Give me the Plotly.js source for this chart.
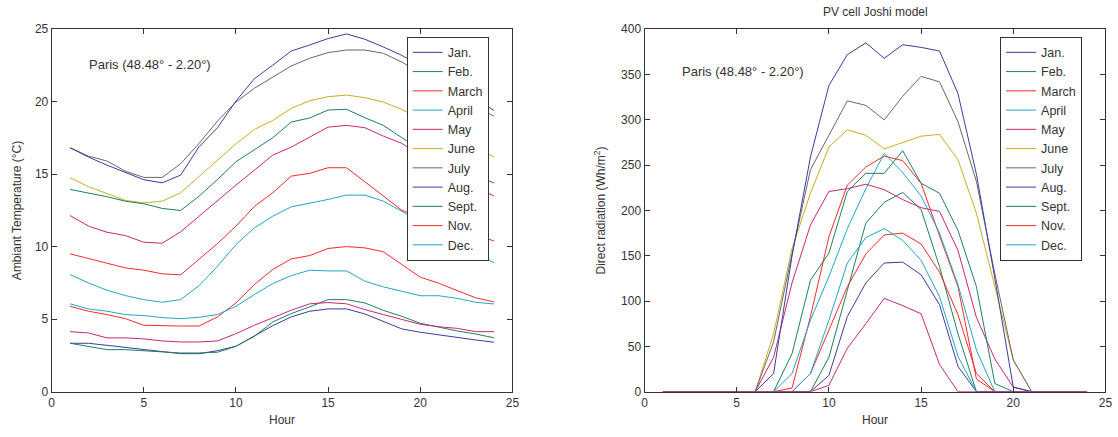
<!DOCTYPE html>
<html>
<head>
<meta charset="utf-8">
<script src="https://cdn.plot.ly/plotly-3.0.1.min.js"></script>
<style>html,body{margin:0;padding:0;background:#fff;}#chart{width:1118px;height:437px;}</style>
</head>
<body>
<div id="chart"></div>
<script>
const hours = [1,2,3,4,5,6,7,8,9,10,11,12,13,14,15,16,17,18,19,20,21,22,23,24];
const legendLabels = ["Jan.","Feb.","March","April","May","June","July","Aug.","Sept.","Nov.","Dec."];
const seriesColors = ["#3c3c9e","#20805a","#f52b2b","#22a6c8","#c8267e","#c9ae22","#6e6666","#3c3c9e","#20805a","#f52b2b","#22a6c8","#c8267e"];

// Ambient temperature (°C), one array per curve
const tJan = [3.34,3.34,3.20,3.06,2.90,2.74,2.62,2.62,2.83,3.13,3.82,4.56,5.16,5.55,5.71,5.71,5.36,4.86,4.33,4.10,3.91,3.75,3.57,3.41];
const tFeb = [3.34,3.13,2.90,2.90,2.83,2.78,2.67,2.67,2.72,3.13,3.82,4.81,5.39,5.85,6.35,6.35,6.12,5.61,5.20,4.72,4.44,4.19,3.98,3.72];
const tMar = [5.89,5.55,5.32,5.04,4.58,4.53,4.53,4.53,5.16,6.12,7.39,8.43,9.16,9.39,9.88,10.01,9.92,9.65,8.77,7.90,7.48,6.97,6.48,6.19];
const tApr = [8.08,7.50,7.00,6.63,6.35,6.17,6.35,7.32,8.65,10.15,11.30,12.11,12.75,12.98,13.26,13.56,13.56,13.14,12.45,11.70,11.00,10.20,9.50,8.90];
const tMay = [12.15,11.42,11.00,10.77,10.31,10.24,11.03,12.11,13.14,14.25,15.28,16.32,16.87,17.59,18.25,18.37,18.21,17.63,17.13,16.30,15.50,14.80,14.10,13.50];
const tJun = [14.76,14.14,13.67,13.19,13.03,13.14,13.72,14.83,15.95,17.10,18.09,18.71,19.54,20.07,20.35,20.46,20.28,19.98,19.47,18.80,18.10,17.40,16.80,16.20];
const tJul = [16.83,16.25,15.91,15.21,14.78,14.78,15.72,17.13,18.67,19.98,20.93,21.73,22.47,23.00,23.39,23.57,23.57,23.34,22.74,22.00,21.20,20.40,19.70,19.00];
const tAug = [16.83,16.18,15.63,15.10,14.62,14.41,14.94,16.90,18.21,20.05,21.59,22.53,23.50,23.92,24.36,24.68,24.31,23.78,23.20,22.50,21.70,20.90,20.20,19.40];
const tSep = [13.95,13.72,13.45,13.14,12.96,12.64,12.50,13.49,14.64,15.86,16.66,17.52,18.60,18.88,19.43,19.48,18.90,18.37,17.52,16.70,16.00,15.40,14.90,14.40];
const tOct = [9.51,9.19,8.84,8.54,8.38,8.13,8.06,9.12,10.22,11.42,12.78,13.72,14.87,15.06,15.45,15.45,14.48,13.49,12.52,12.00,11.60,11.20,10.80,10.40];
const tNov = [6.06,5.71,5.55,5.32,5.25,5.11,5.04,5.13,5.32,5.89,6.70,7.46,8.01,8.38,8.33,8.33,7.62,7.23,6.93,6.62,6.62,6.44,6.17,6.05];
const tDec = [4.14,4.05,3.71,3.71,3.64,3.50,3.43,3.43,3.50,4.00,4.58,5.09,5.62,6.06,6.15,6.06,5.66,5.32,4.97,4.65,4.48,4.37,4.14,4.14];

// Direct radiation (Wh/m²), one array per curve
const rJan = [0,0,0,0,0,0,0,0,0,18,83,120,142,143,129,96,28,0,0,0,0,0,0,0];
const rFeb = [0,0,0,0,0,0,0,0,0,38,112,186,209,220,201,138,64,0,0,0,0,0,0,0];
const rMar = [0,0,0,0,0,0,0,4,83,171,228,248,260,255,230,172,116,14,0,0,0,0,0,0];
const rApr = [0,0,0,0,0,0,0,20,79,127,180,224,263,242,216,175,118,46,0,0,0,0,0,0];
const rMay = [0,0,0,0,0,0,38,120,184,221,224,229,223,212,203,199,156,82,36,5,0,0,0,0];
const rJun = [0,0,0,0,0,0,64,158,219,270,289,283,268,275,282,284,256,197,115,35,0,0,0,0];
const rJul = [0,0,0,0,0,0,55,152,245,283,321,316,300,326,348,342,298,232,130,35,0,0,0,0];
const rAug = [0,0,0,0,0,0,20,150,259,338,372,385,368,383,380,376,329,240,125,5,0,0,0,0];
const rSep = [0,0,0,0,0,0,0,42,123,153,221,241,241,266,230,219,178,116,9,0,0,0,0,0];
const rOct = [0,0,0,0,0,0,0,0,20,68,116,152,173,175,163,132,85,20,0,0,0,0,0,0];
const rNov = [0,0,0,0,0,0,0,0,20,79,142,170,180,167,145,105,39,0,0,0,0,0,0,0];
const rDec = [0,0,0,0,0,0,0,0,0,7,48,75,103,95,86,30,0,0,0,0,0,0,0,0];

const tempSeries = [tJan,tFeb,tMar,tApr,tMay,tJun,tJul,tAug,tSep,tOct,tNov,tDec];
const radSeries = [rJan,rFeb,rMar,rApr,rMay,rJun,rJul,rAug,rSep,rOct,rNov,rDec];

const FONT = "Liberation Sans, Arial, Helvetica, sans-serif";
const traces = [];
tempSeries.forEach((ys, i) => {
  traces.push({x: hours, y: ys, type: 'scatter', mode: 'lines', xaxis: 'x', yaxis: 'y',
    name: i < legendLabels.length ? legendLabels[i] : 'Dec', showlegend: i < legendLabels.length,
    legend: 'legend', line: {color: seriesColors[i], width: 1}, hoverinfo: 'skip'});
});
radSeries.forEach((ys, i) => {
  traces.push({x: hours, y: ys, type: 'scatter', mode: 'lines', xaxis: 'x2', yaxis: 'y2',
    name: i < legendLabels.length ? legendLabels[i] : 'Dec', showlegend: i < legendLabels.length,
    legend: 'legend2', line: {color: seriesColors[i], width: 1}, hoverinfo: 'skip'});
});

const axisBase = {showline: true, linecolor: '#333', linewidth: 1, mirror: 'ticks', ticks: 'inside',
  ticklen: 5, tickcolor: '#333', showgrid: false, zeroline: false,
  tickfont: {family: FONT, size: 12, color: '#333'}};

const legendBase = {bgcolor: '#fff', bordercolor: '#333', borderwidth: 1,
  font: {family: FONT, size: 12.5, color: '#333'}, xanchor: 'left', yanchor: 'top',
  tracegroupgap: 0, itemclick: false, itemdoubleclick: false};

const layout = {
  width: 1118, height: 437, margin: {l: 0, r: 0, t: 0, b: 0},
  paper_bgcolor: '#fff', plot_bgcolor: '#fff', showlegend: true,
  font: {family: FONT, color: '#333'},
  xaxis: Object.assign({}, axisBase, {domain: [0.0462, 0.4583], range: [0, 25], dtick: 5, tick0: 0,
    title: {text: 'Hour', font: {family: FONT, size: 12, color: '#333'}, standoff: 6}, anchor: 'y'}),
  yaxis: Object.assign({}, axisBase, {domain: [0.1037, 0.933], range: [0, 25], dtick: 5, tick0: 0,
    title: {text: 'Ambiant Temperature (°C)', font: {family: FONT, size: 12, color: '#333'}, standoff: 10}, anchor: 'x'}),
  xaxis2: Object.assign({}, axisBase, {domain: [0.5765, 0.9888], range: [0, 25], dtick: 5, tick0: 0,
    title: {text: 'Hour', font: {family: FONT, size: 12, color: '#333'}, standoff: 6}, anchor: 'y2'}),
  yaxis2: Object.assign({}, axisBase, {domain: [0.1037, 0.933], range: [0, 400], dtick: 50, tick0: 0,
    title: {text: 'Direct radiation (Wh/m<sup>2</sup>)', font: {family: FONT, size: 12, color: '#333'}, standoff: 12}, anchor: 'x2'}),
  legend: Object.assign({}, legendBase, {x: 0.3638, y: 0.916}),
  legend2: Object.assign({}, legendBase, {x: 0.8945, y: 0.916}),
  annotations: [
    {text: 'Paris (48.48° - 2.20°)', xref: 'x', yref: 'y', x: 1.9, y: 22.55, xanchor: 'left', yanchor: 'middle',
      showarrow: false, font: {family: FONT, size: 13, color: '#333'}},
    {text: 'Paris (48.48° - 2.20°)', xref: 'x2', yref: 'y2', x: 1.9, y: 353, xanchor: 'left', yanchor: 'middle',
      showarrow: false, font: {family: FONT, size: 13, color: '#333'}},
    {text: 'PV cell Joshi model', xref: 'paper', yref: 'paper', x: 0.7827, y: 0.972, xanchor: 'center', yanchor: 'middle',
      showarrow: false, font: {family: FONT, size: 12, color: '#333'}}
  ]
};

Plotly.newPlot('chart', traces, layout, {displayModeBar: false, staticPlot: true});
</script>
</body>
</html>
